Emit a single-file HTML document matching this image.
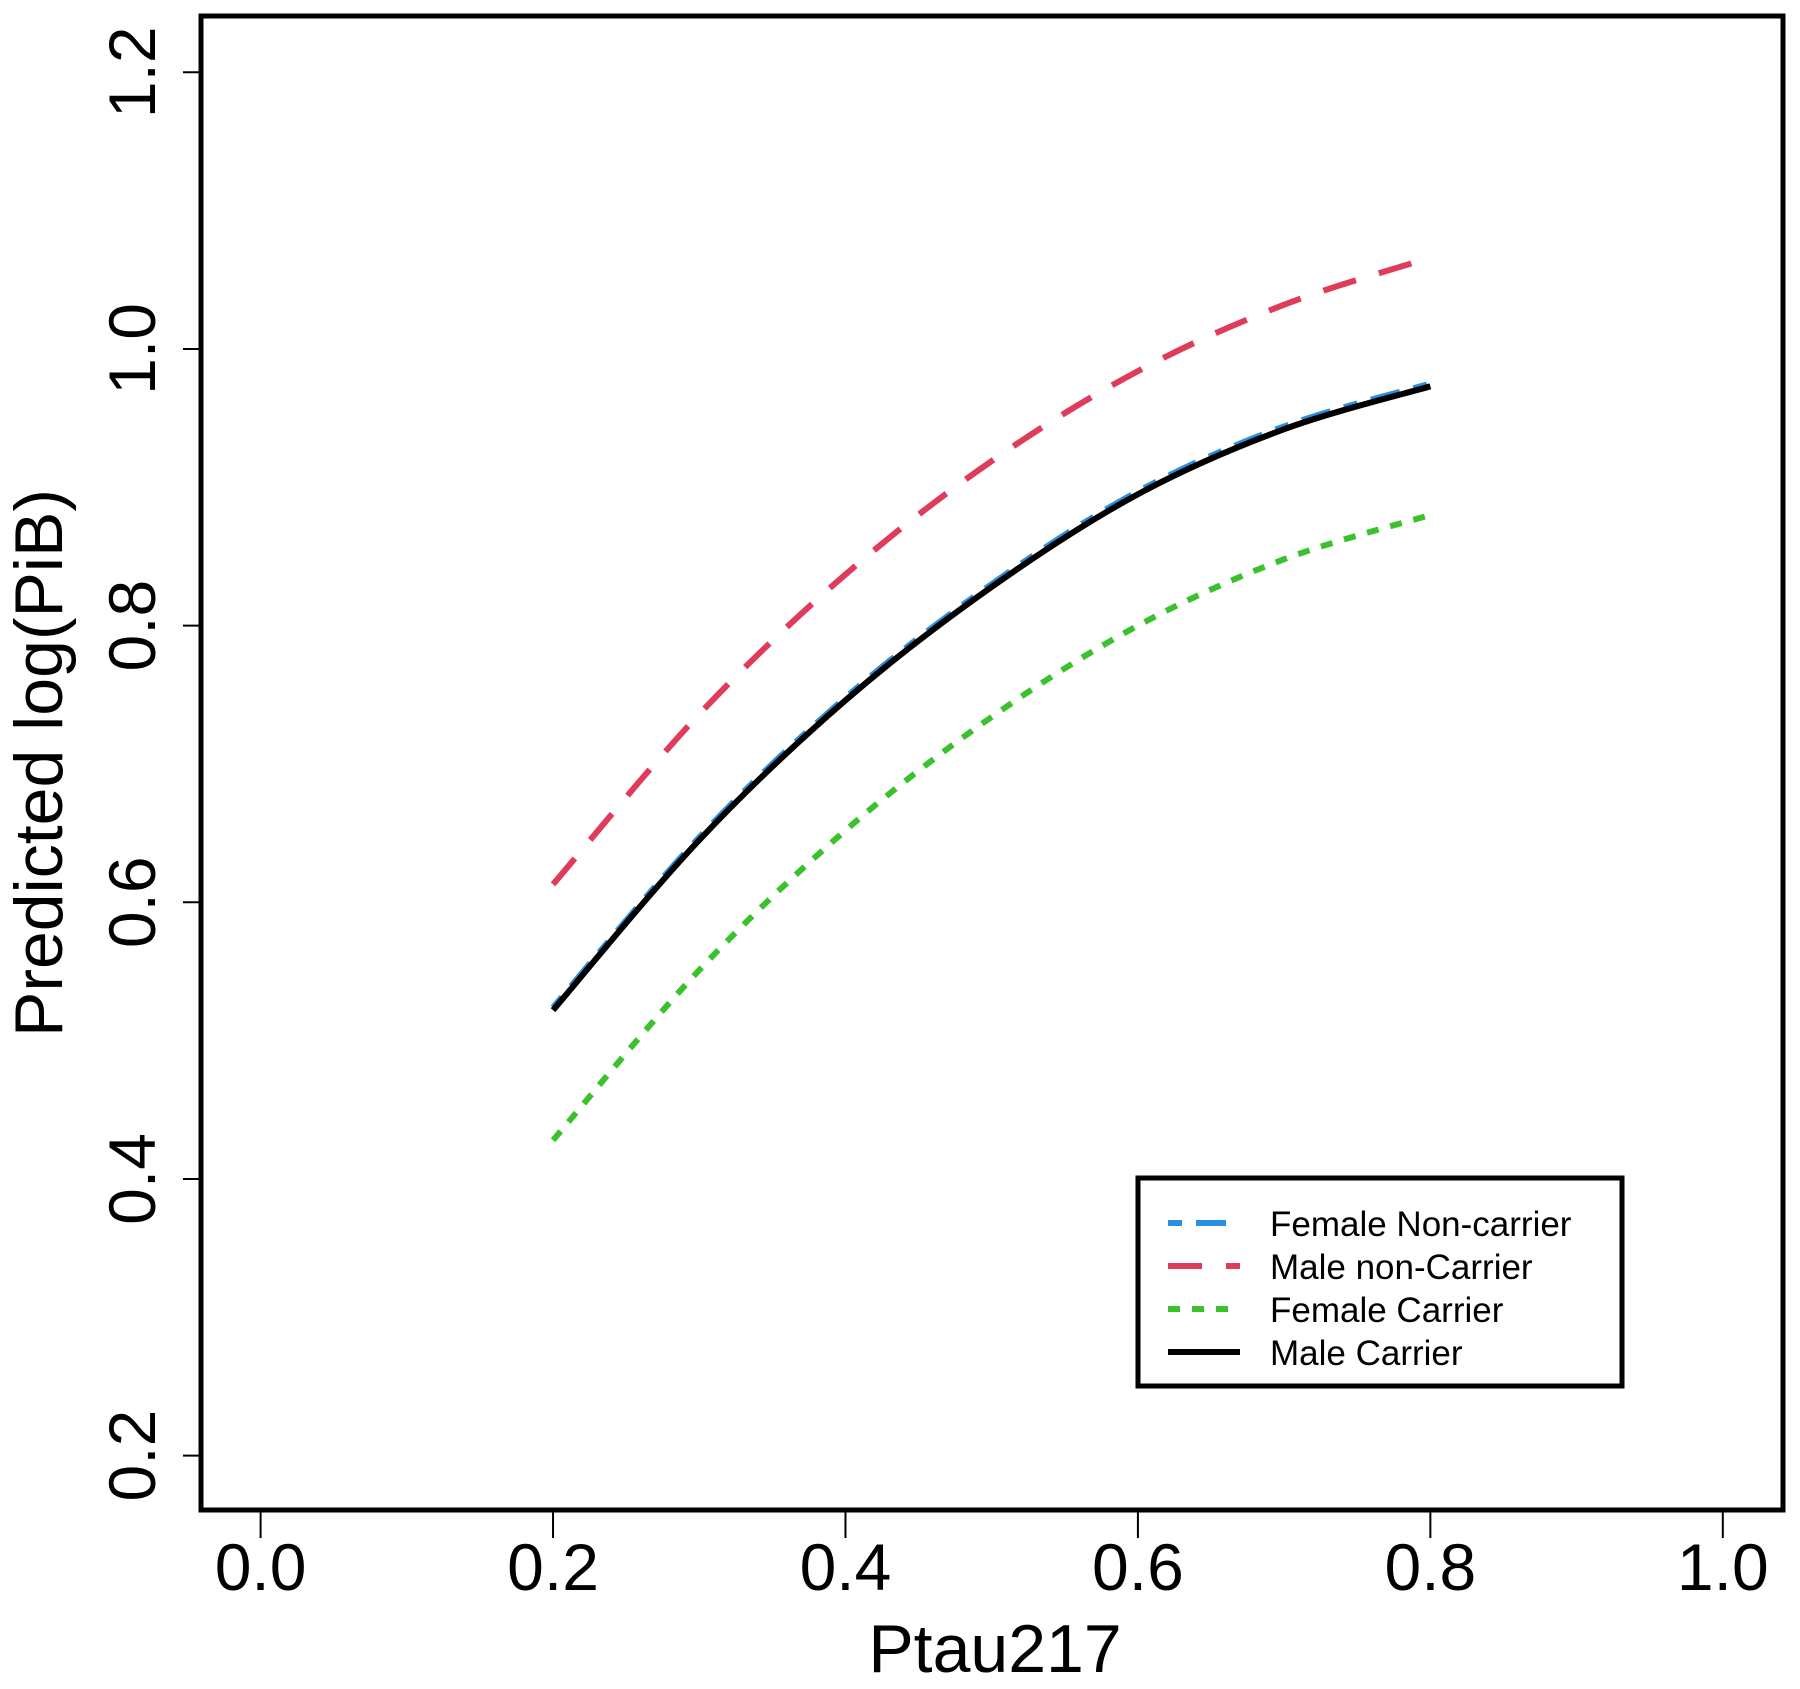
<!DOCTYPE html>
<html><head><meta charset="utf-8"><style>
html,body{margin:0;padding:0;background:#fff;}
svg{display:block;font-family:"Liberation Sans",sans-serif;}
</style></head><body>
<svg id="chart" width="1800" height="1689" viewBox="0 0 1800 1689">
<rect x="0" y="0" width="1800" height="1689" fill="#fff"/>
<g id="marks"></g>
<rect x="201" y="16" width="1582" height="1494" fill="none" stroke="#000" stroke-width="5"/>
<g id="axes"></g>
<text x="995" y="1672" font-size="68" text-anchor="middle">Ptau217</text>
<text transform="translate(62,763) rotate(-90)" font-size="68" text-anchor="middle">Predicted log(PiB)</text>
<g>
<rect x="1138" y="1178" width="484" height="208" fill="#fff" stroke="#000" stroke-width="5"/>
<line x1="1168" y1="1223" x2="1240" y2="1223" stroke="#2b8fe0" stroke-width="6" stroke-dasharray="14,14,30,14"/>
<line x1="1168" y1="1266" x2="1240" y2="1266" stroke="#df3b5a" stroke-width="6" stroke-dasharray="34,24"/>
<line x1="1168" y1="1309" x2="1240" y2="1309" stroke="#3cc12e" stroke-width="6" stroke-dasharray="12,12"/>
<line x1="1168" y1="1352" x2="1240" y2="1352" stroke="#000" stroke-width="6"/>
<text x="1270" y="1236" font-size="35">Female Non-carrier</text>
<text x="1270" y="1279" font-size="35">Male non-Carrier</text>
<text x="1270" y="1322" font-size="35">Female Carrier</text>
<text x="1270" y="1365" font-size="35">Male Carrier</text>
</g>
</svg>
<script>
const xValues = [0.2, 0.3, 0.4, 0.5, 0.6, 0.7, 0.8];
const femaleNonCarrier = [0.524, 0.647, 0.748, 0.830, 0.897, 0.944, 0.975];
const maleNonCarrier = [0.613, 0.736, 0.837, 0.919, 0.984, 1.032, 1.066];
const femaleCarrier = [0.428, 0.551, 0.652, 0.734, 0.800, 0.848, 0.880];
const maleCarrier = [0.522, 0.645, 0.746, 0.828, 0.895, 0.942, 0.973];
const xTicks = [0.0, 0.2, 0.4, 0.6, 0.8, 1.0];
const yTicks = [0.2, 0.4, 0.6, 0.8, 1.0, 1.2];

const NS = "http://www.w3.org/2000/svg";
function sx(v){ return 260.6 + v * 1462.2; }
function sy(v){ return 1455.6 - (v - 0.2) * 1383.3; }
function pathFor(xs, ys){
  const p = xs.map((x,i)=>[sx(x), sy(ys[i])]);
  let d = "M" + p[0][0] + "," + p[0][1];
  for (let i=0;i<p.length-1;i++){
    const p0 = p[i-1]||p[i], p1=p[i], p2=p[i+1], p3=p[i+2]||p[i+1];
    const c1x=p1[0]+(p2[0]-p0[0])/6, c1y=p1[1]+(p2[1]-p0[1])/6;
    const c2x=p2[0]-(p3[0]-p1[0])/6, c2y=p2[1]-(p3[1]-p1[1])/6;
    d += " C"+c1x+","+c1y+" "+c2x+","+c2y+" "+p2[0]+","+p2[1];
  }
  return d;
}
const marks = document.getElementById("marks");
function addLine(ys, color, dash, name){
  const el = document.createElementNS(NS,"path");
  el.setAttribute("d", pathFor(xValues, ys));
  el.setAttribute("fill","none");
  el.setAttribute("stroke",color);
  el.setAttribute("stroke-width","6");
  if (dash) el.setAttribute("stroke-dasharray", dash);
  
  
  marks.appendChild(el);
}
addLine(maleNonCarrier, "#df3b5a", "34,24", "line-male-noncarrier");
addLine(femaleCarrier, "#3cc12e", "12,12", "line-female-carrier");
addLine(femaleNonCarrier, "#2b8fe0", "14,14,30,14", "line-female-noncarrier");
addLine(maleCarrier, "#000", null, "line-male-carrier");

const axes = document.getElementById("axes");
xTicks.forEach(t=>{
  const l = document.createElementNS(NS,"line");
  l.setAttribute("x1", sx(t)); l.setAttribute("x2", sx(t));
  l.setAttribute("y1", 1510); l.setAttribute("y2", 1538);
  l.setAttribute("stroke","#000"); l.setAttribute("stroke-width","2");
  
  
  axes.appendChild(l);
  const tx = document.createElementNS(NS,"text");
  tx.setAttribute("x", sx(t)); tx.setAttribute("y", 1590);
  tx.setAttribute("font-size","66"); tx.setAttribute("text-anchor","middle");
  tx.textContent = t.toFixed(1);
  
  
  axes.appendChild(tx);
});
yTicks.forEach(t=>{
  const l = document.createElementNS(NS,"line");
  l.setAttribute("x1", 183); l.setAttribute("x2", 201);
  l.setAttribute("y1", sy(t)); l.setAttribute("y2", sy(t));
  l.setAttribute("stroke","#000"); l.setAttribute("stroke-width","2");
  
  
  axes.appendChild(l);
  const tx = document.createElementNS(NS,"text");
  tx.setAttribute("transform","translate(155,"+sy(t)+") rotate(-90)");
  tx.setAttribute("font-size","66"); tx.setAttribute("text-anchor","middle");
  tx.textContent = t.toFixed(1);
  
  
  axes.appendChild(tx);
});
</script>
</body></html>
